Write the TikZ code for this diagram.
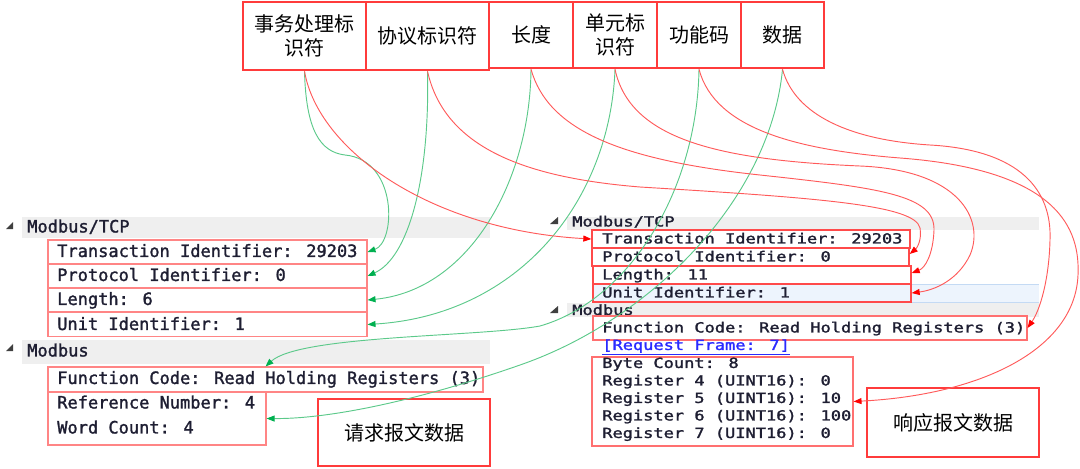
\documentclass[tikz,border=0pt]{standalone}
\usepackage{fontspec}
\usepackage{graphicx}
\newfontfamily\cjk{Noto Sans CJK SC}
\newfontfamily\monof[FakeBold=1.5]{DejaVu Sans Mono}
\usetikzlibrary{arrows.meta}
\definecolor{topred}{HTML}{FF3B3B}
\definecolor{rowpink}{HTML}{FF8585}
\definecolor{rowredR}{HTML}{FF4A4A}
\definecolor{rowpinkR}{HTML}{FF7070}
\definecolor{bandgray}{HTML}{EFEFEF}
\definecolor{selblue}{HTML}{EDF4FD}
\definecolor{selline}{HTML}{C4DAF4}
\definecolor{txt}{HTML}{1E1E32}
\definecolor{trig}{HTML}{404040}
\definecolor{gline}{HTML}{5CC98A}
\definecolor{ghead}{HTML}{00B050}
\definecolor{rline}{HTML}{FF5A5A}
\definecolor{rhead}{HTML}{FF0000}
\definecolor{linkblue}{HTML}{2A2AFF}
\newcommand\sq[1]{\scalebox{1}[0.82]{#1}}
\begin{document}
\begin{tikzpicture}[x=0.75pt,y=-0.75pt,
  topbox/.style={draw=topred, line width=1.9pt, font=\cjk\fontsize{15}{18}\selectfont, align=center, inner sep=0pt},
  bigbox/.style={draw=topred, line width=1.9pt, font=\cjk\fontsize{15}{18}\selectfont, inner sep=0pt},
  rowL/.style={draw=rowpink, line width=0.8pt, inner sep=0pt},
  rowR/.style={draw=rowredR, line width=1pt, inner sep=0pt},
  rowRp/.style={draw=rowpinkR, line width=0.8pt, inner sep=0pt},
  lbl/.style={anchor=west, inner sep=0pt, font=\monof\fontsize{12.75}{15}\selectfont, text=txt, text height=0.87em, text depth=0.2em},
  lblR/.style={anchor=west, inner sep=0pt, font=\monof\fontsize{12.75}{15}\selectfont, text=txt, text height=0.77em, text depth=0.18em},
  greq/.style={draw=gline, line width=0.7pt, -{Triangle[length=6pt,width=4.5pt,color=ghead]}},
  rresp/.style={draw=rline, line width=0.7pt, -{Triangle[length=6pt,width=4.5pt,color=rhead]}}]
\useasboundingbox (0,0) rectangle (1080,468);

% ---------- top field boxes ----------
\node[topbox, minimum width=92.25pt, minimum height=51pt] (b1) at (304.5,36) {事务处理标\\识符};
\node[topbox, minimum width=92.25pt, minimum height=51pt] (b2) at (427.5,36) {协议标识符};
\node[topbox, minimum width=63pt, minimum height=49.5pt] (b3) at (531,35) {长度};
\node[topbox, minimum width=63pt, minimum height=49.5pt] (b4) at (615,35) {单元标\\识符};
\node[topbox, minimum width=63pt, minimum height=49.5pt] (b5) at (699,35) {功能码};
\node[topbox, minimum width=62.25pt, minimum height=49.5pt] (b6) at (782.5,35) {数据};

% ---------- left panel (request) ----------
\fill[bandgray] (22,217) rectangle (490,238);
\fill[bandgray] (22,340) rectangle (490,364);
\fill[trig] (6,229) -- (13,229) -- (13,222) -- cycle;
\fill[trig] (6,351) -- (13,351) -- (13,344) -- cycle;
\node[lbl] (hL1) at (27,228) {Modbus/TCP};
\node[lbl] (hL2) at (27,352) {Modbus};

\node[rowL, minimum width=239.25pt, minimum height=18pt] (tiL) at (207.5,252) {};
\node[rowL, minimum width=239.25pt, minimum height=18pt] (piL) at (207.5,276) {};
\node[rowL, minimum width=239.25pt, minimum height=18pt] (lenL) at (207.5,300) {};
\node[rowL, minimum width=239.25pt, minimum height=18pt] (unitL) at (207.5,324.5) {};
\node[rowL, minimum width=326.25pt, minimum height=18.75pt] (fcL) at (265.5,379.5) {};
\node[rowL, minimum width=163.5pt, minimum height=39.75pt] (refL) at (157,418.5) {};
\node[lbl] (tiLt) at (57,252.5) {Transaction Identifier: 29203};
\node[lbl] (piLt) at (57,276.5) {Protocol Identifier: 0};
\node[lbl] (lenLt) at (57,300.5) {Length: 6};
\node[lbl] (unitLt) at (57,325.5) {Unit Identifier: 1};
\node[lbl] (fcLt) at (57,379.5) {Function Code: Read Holding Registers (3)};
\node[lbl] (refLt) at (57,404) {Reference Number: 4};
\node[lbl] (wcLt) at (57,429) {Word Count: 4};
\node[bigbox, minimum width=129pt, minimum height=50.25pt] (reqbox) at (404,432.5) {请求报文数据};

% ---------- right panel (response) ----------
\fill[bandgray] (567,217) rectangle (1039,230);
\fill[bandgray] (567,303) rectangle (1039,317);
\fill[selblue] (593,284) rectangle (1039,302);
\draw[selline, line width=0.7pt] (593,284) -- (1039,284);
\draw[selline, line width=0.7pt] (593,302) -- (1039,302);
\fill[trig] (550,224) -- (558,224) -- (558,217) -- cycle;
\fill[trig] (550,313) -- (558,313) -- (558,306) -- cycle;
\node[lblR] (hR1) at (572,222.5) {\sq{Modbus/TCP}};
\node[lblR] (hR2) at (572,311) {\sq{Modbus}};

\node[rowR, minimum width=238.5pt, minimum height=13.5pt] (tiR) at (751,239) {};
\node[rowR, minimum width=237.75pt, minimum height=13.5pt] (piR) at (750.5,257) {};
\node[rowR, minimum width=238.5pt, minimum height=13.5pt] (lenR) at (752,275) {};
\node[rowR, minimum width=238.5pt, minimum height=13.5pt] (unitR) at (752,293) {};
\node[rowRp, minimum width=325.5pt, minimum height=18pt] (fcR) at (810,328) {};
\node[rowRp, minimum width=195.75pt, minimum height=66.75pt] (dataR) at (722.5,401.5) {};
\node[lblR] (tiRt) at (602,239.5) {\sq{Transaction Identifier: 29203}};
\node[lblR] (piRt) at (602,257.5) {\sq{Protocol Identifier: 0}};
\node[lblR] (lenRt) at (602,275.5) {\sq{Length: 11}};
\node[lblR] (unitRt) at (602,293.5) {\sq{Unit Identifier: 1}};
\node[lblR] (fcRt) at (602,328.5) {\sq{Function Code: Read Holding Registers (3)}};
\node[lblR, text=linkblue] (rfR) at (602,346) {\sq{\underline{[Request Frame: 7]}}};
\node[lblR] (bcR) at (602,364) {\sq{Byte Count: 8}};
\node[lblR] (r4R) at (602,381.5) {\sq{Register 4 (UINT16): 0}};
\node[lblR] (r5R) at (602,399) {\sq{Register 5 (UINT16): 10}};
\node[lblR] (r6R) at (602,416.5) {\sq{Register 6 (UINT16): 100}};
\node[lblR] (r7R) at (602,434) {\sq{Register 7 (UINT16): 0}};
\node[bigbox, minimum width=129pt, minimum height=51.75pt] (respbox) at (953,422.5) {响应报文数据};

% ---------- request connectors (green) ----------
\draw[greq] (b1.south) .. controls (306,130) and (320,152) .. (345,155) .. controls (398,160) and (396,242) .. (tiL.east);
\draw[greq] (b2.south) .. controls (430,180) and (408,258) .. (piL.east);
\draw[greq] (b3.south) .. controls (530,180) and (470,290) .. (lenL.east);
\draw[greq] (b4.south) .. controls (610,200) and (520,315) .. (unitL.east);
\draw[greq] (b5.south) .. controls (697,190) and (630,300) .. (540,326) .. controls (480,337) and (300,335) .. (fcL.north);
\draw[greq] (b6.south) .. controls (770,200) and (650,320) .. (520,365) .. controls (420,400) and (330,419) .. (refL.east);

% ---------- response connectors (red) ----------
\draw[rresp] (b1.south) .. controls (318,150) and (430,230) .. (tiR.west);
\draw[rresp] (b2.south) .. controls (445,150) and (530,178) .. (640,187) .. controls (820,198) and (915,205) .. (920,228) .. controls (922,240) and (917,248) .. ([yshift=2.25pt]piR.east);
\draw[rresp] (b3.south) .. controls (548,130) and (620,160) .. (760,175) .. controls (880,188) and (935,195) .. (934,230) .. controls (933,255) and (925,268) .. ([yshift=1.5pt]lenR.east);
\draw[rresp] (b4.south) .. controls (630,140) and (720,160) .. (860,166) .. controls (960,170) and (985,220) .. (970,255) .. controls (958,280) and (935,290) .. (unitR.east);
\draw[rresp] (b5.south) .. controls (715,130) and (800,150) .. (900,158) .. controls (1060,170) and (1080,230) .. (1078,275) .. controls (1075,350) and (980,395) .. (dataR.east);
\draw[rresp] (b6.south) .. controls (795,115) and (850,140) .. (930,145) .. controls (1020,150) and (1052,190) .. (1050,240) .. controls (1049,280) and (1040,310) .. (fcR.east);
\end{tikzpicture}
\end{document}
